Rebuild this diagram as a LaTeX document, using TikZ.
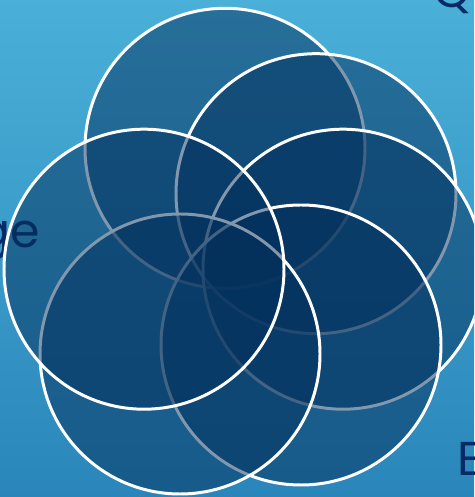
\documentclass[tikz,border=0pt]{standalone}
\usepackage{fontspec}
\usepackage{tikz}
\usepackage{xcolor}
\usetikzlibrary{positioning}
\newfontfamily\wordfont{Poppins}
\definecolor{skytop}{HTML}{4AB0D8}
\definecolor{skybot}{HTML}{2A86BA}
\definecolor{navyfill}{HTML}{04305C}
\definecolor{wordink}{HTML}{0A2A66}
\tikzset{
  ring/.style={draw=white,line width=1.7pt,fill=navyfill,fill opacity=0.5},
  word/.style={inner sep=0pt,text=wordink,font=\wordfont\fontsize{27}{32}\selectfont}
}

\begin{document}
\begin{tikzpicture}[x=0.02cm,y=0.02cm]
  \useasboundingbox (0,0) rectangle (474,497);
  \clip (0,0) rectangle (474,497);
  \shade[top color=skytop,bottom color=skybot] (0,0) rectangle (474,497);
  \node[word,anchor=base west] (wQ) at (433,489) {Q};
  \node[word,anchor=base east] (wge) at (40,249) {ge};
  \node[word,anchor=base west] (wE) at (457,21) {E};
  \foreach \cx/\cy in {225/348.7, 316/303.3, 343/227.8, 301/152, 180/143, 144/227.8}
    \path[ring] (\cx,\cy) circle[radius=140];
\end{tikzpicture}
\end{document}
